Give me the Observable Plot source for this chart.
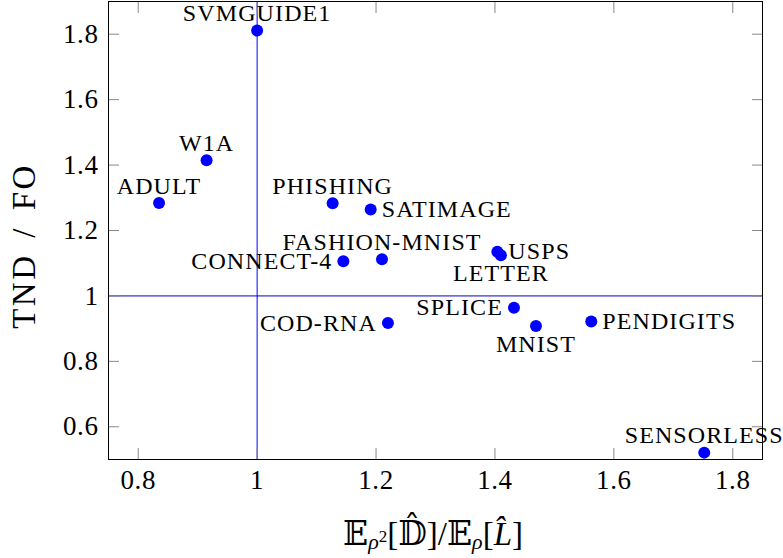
<!DOCTYPE html>
<html>
<head>
<meta charset="utf-8">
<script src="https://cdn.jsdelivr.net/npm/d3@7"></script>
<script src="https://cdn.jsdelivr.net/npm/@observablehq/plot@0.6"></script>
<style>
  html, body { margin: 0; padding: 0; background: white; }
  svg { display: block; overflow: visible; }
  svg text, svg tspan { font-family: "Liberation Serif", "DejaVu Serif", "DejaVu Sans", serif !important; }
</style>
</head>
<body>
<script>
// ---- data ----
const names = ["SVMGUIDE1","W1A","ADULT","PHISHING","SATIMAGE","FASHION-MNIST","CONNECT-4","USPS","LETTER","SPLICE","COD-RNA","MNIST","PENDIGITS","SENSORLESS"];
const xs    = [1.000, 0.915, 0.835, 1.127, 1.191, 1.210, 1.145, 1.404, 1.410, 1.432, 1.220, 1.469, 1.562, 1.752];
const ys    = [1.811, 1.415, 1.284, 1.283, 1.264, 1.112, 1.106, 1.135, 1.124, 0.964, 0.917, 0.908, 0.922, 0.521];
const labelPos = ["above","above","above","above","right","above","left","right","below","left","left","below","right","above"];
const xTicks = [0.8, 1, 1.2, 1.4, 1.6, 1.8];
const yTicks = [0.6, 0.8, 1, 1.2, 1.4, 1.6, 1.8];
const refX = [1];
const refY = [1];
const yLabel = "TND / FO";

const data = names.map((n, i) => ({name: n, x: xs[i], y: ys[i], pos: labelPos[i]}));
const F = "Liberation Serif, serif";

const labelMark = (pos, opts) => Plot.text(data.filter(d => d.pos === pos), {
  x: "x", y: "y", text: "name", fontSize: 24, fontFamily: F, fill: "black", ...opts
});

const plot = Plot.plot({
  width: 783,
  height: 558,
  marginLeft: 108,
  marginRight: 21,
  marginTop: 1,
  marginBottom: 99,
  style: {fontFamily: F, background: "white", color: "black"},
  x: {domain: [0.75, 1.85], axis: null},
  y: {domain: [0.5, 1.9], axis: null},
  marks: [
    Plot.ruleX(refX, {stroke: "blue", strokeWidth: 1}),
    Plot.ruleY(refY, {stroke: "#0000cc", strokeWidth: 1}),
    Plot.axisX(xTicks, {anchor: "bottom", tickSize: -11, tickPadding: 21, stroke: "#888", fontSize: 27, tickFormat: d => String(d), label: null}),
    Plot.axisX(xTicks, {anchor: "top", tickSize: -11, stroke: "#888", tickFormat: () => "", label: null}),
    Plot.axisY(yTicks, {anchor: "left", tickSize: -11, tickPadding: 21, stroke: "#888", fontSize: 27, tickFormat: d => String(d), label: null}),
    Plot.axisY(yTicks, {anchor: "right", tickSize: -11, stroke: "#888", tickFormat: () => "", label: null}),
    Plot.frame({stroke: "black", strokeWidth: 1}),
    Plot.dot(data, {x: "x", y: "y", r: 6, fill: "blue", stroke: null}),
    labelMark("above", {textAnchor: "middle", dy: -17}),
    labelMark("below", {textAnchor: "middle", dy: 18}),
    labelMark("right", {textAnchor: "start", dx: 11}),
    labelMark("left", {textAnchor: "end", dx: -11})
  ]
});
document.body.appendChild(plot);

const svg = d3.select(plot);
const nameSet = new Set(names);
const tickSet = new Set([...xTicks, ...yTicks].map(String));
svg.selectAll("text").each(function() {
  const t = this.textContent;
  if (nameSet.has(t)) this.style.letterSpacing = "1.1px";
  else if (tickSet.has(t)) this.style.letterSpacing = "0.6px";
});

// y axis label
svg.append("text")
  .attr("transform", "translate(35,246) rotate(-90)")
  .attr("text-anchor", "middle")
  .attr("font-size", 33)
  .style("letter-spacing", "2.5px")
  .style("word-spacing", "5px")
  .attr("fill", "black")
  .text(yLabel);

// x axis label: E_{rho^2}[D^]/E_rho[L^]
const xl = svg.append("text")
  .attr("x", 433)
  .attr("y", 545)
  .attr("text-anchor", "middle")
  .attr("font-size", 33)
  .attr("fill", "black");
xl.append("tspan").text("\u{1D53C}");
xl.append("tspan").attr("font-size", 22).attr("font-style", "italic").attr("dy", 4).text("\u03C1");
xl.append("tspan").attr("font-size", 17).attr("dy", -7).text("2");
xl.append("tspan").attr("dy", 3).text("[\u{1D53B}\u0302]/\u{1D53C}");
xl.append("tspan").attr("font-size", 22).attr("font-style", "italic").attr("dy", 4).text("\u03C1");
xl.append("tspan").attr("dy", -4).text("[");
xl.append("tspan").attr("font-style", "italic").text("L\u0302");
xl.append("tspan").text("]");
</script>
</body>
</html>
